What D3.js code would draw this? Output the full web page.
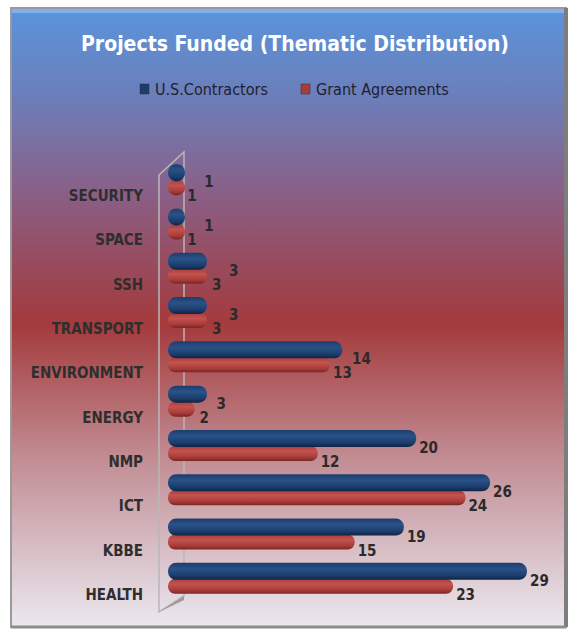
<!DOCTYPE html>
<html>
<head>
<meta charset="utf-8">
<script src="https://cdn.jsdelivr.net/npm/d3@7"></script>
<style>
body { margin: 0; background: #fff; }
svg text { font-family: "DejaVu Sans Condensed", "Liberation Sans", sans-serif; }
</style>
</head>
<body>
<div id="chart"></div>
<script>
var categories = ["SECURITY", "SPACE", "SSH", "TRANSPORT", "ENVIRONMENT", "ENERGY", "NMP", "ICT", "KBBE", "HEALTH"];
var contractors = [1, 1, 3, 3, 14, 3, 20, 26, 19, 29];
var grants = [1, 1, 3, 3, 13, 2, 12, 24, 15, 23];
var seriesNames = ["U.S.Contractors", "Grant Agreements"];

var width = 576, height = 635;

var svg = d3.select("#chart").append("svg")
  .attr("width", width)
  .attr("height", height);

var defs = svg.append("defs");

// background gradient blue -> red -> pale
var bg = defs.append("linearGradient").attr("id", "bg")
  .attr("x1", 0).attr("y1", 0).attr("x2", 0).attr("y2", 1);
bg.append("stop").attr("offset", "0%").attr("stop-color", "#5a94dc");
bg.append("stop").attr("offset", "15%").attr("stop-color", "#6d7db8");
bg.append("stop").attr("offset", "30%").attr("stop-color", "#8a5f86");
bg.append("stop").attr("offset", "51%").attr("stop-color", "#a43a3c");
bg.append("stop").attr("offset", "72%").attr("stop-color", "#c08a90");
bg.append("stop").attr("offset", "100%").attr("stop-color", "#ebe8f0");

function barGrad(id, dark, mid, light) {
  var g = defs.append("linearGradient").attr("id", id)
    .attr("x1", 0).attr("y1", 0).attr("x2", 0).attr("y2", 1);
  g.append("stop").attr("offset", "0%").attr("stop-color", mid);
  g.append("stop").attr("offset", "35%").attr("stop-color", light);
  g.append("stop").attr("offset", "75%").attr("stop-color", mid);
  g.append("stop").attr("offset", "100%").attr("stop-color", dark);
}
barGrad("blueBar", "#0f2444", "#1c3d6c", "#2a5288");
barGrad("redBar", "#7a2523", "#a83c3a", "#c4524f");

// panel
svg.append("rect")
  .attr("x", 11).attr("y", 8).attr("width", 555).attr("height", 619)
  .attr("fill", "url(#bg)")
  .attr("stroke", "#9a9a9a").attr("stroke-width", 2);
svg.append("rect")
  .attr("x", 12).attr("y", 9).attr("width", 553).attr("height", 4)
  .attr("fill", "#8ab8f0").attr("opacity", 0.8);
svg.append("line")
  .attr("x1", 566).attr("y1", 8).attr("x2", 566).attr("y2", 627)
  .attr("stroke", "#7d7d7d").attr("stroke-width", 4);
svg.append("line")
  .attr("x1", 11).attr("y1", 627).attr("x2", 566).attr("y2", 627)
  .attr("stroke", "#8d8d8d").attr("stroke-width", 3);

// title
svg.append("text")
  .attr("x", 295).attr("y", 51)
  .attr("text-anchor", "middle")
  .attr("fill", "#fff")
  .attr("font-size", 21).attr("font-weight", "bold")
  .text("Projects Funded  (Thematic Distribution)");

// legend
var legend = svg.append("g").attr("class", "legend");
var legendX = [140, 301];
seriesNames.forEach(function(name, i) {
  legend.append("rect")
    .attr("x", legendX[i]).attr("y", 84).attr("width", 9).attr("height", 10)
    .attr("fill", i === 0 ? "#1c3d6c" : "#a83c3a")
    .attr("stroke", "#333").attr("stroke-width", 0.5);
  legend.append("text")
    .attr("x", legendX[i] + 15).attr("y", 95)
    .attr("fill", "#1e2030")
    .attr("font-size", 16)
    .text(name);
});

// scales
var x = d3.scaleLinear().domain([0, 29]).range([170, 527]);
var y = d3.scaleBand().domain(categories).range([173, 616]);

// 3d wall lines
var wall = svg.append("g").attr("class", "wall");
wall.append("path")
  .attr("d", "M159,175 L184,152 L184,596 L159,612 Z")
  .attr("fill", "none")
  .attr("stroke", "#b8b8b8").attr("stroke-width", 1.5);
wall.append("path")
  .attr("d", "M159,612 L184,596 L184,600 Z")
  .attr("fill", "#9a9a9a");

// category labels
svg.append("g").selectAll("text")
  .data(categories)
  .join("text")
  .attr("x", 143)
  .attr("y", function(d) { return y(d) + y.bandwidth() / 2 + 6; })
  .attr("text-anchor", "end")
  .attr("fill", "#2e2e2e")
  .attr("font-size", 15).attr("font-weight", "bold")
  .text(function(d) { return d; });

var rows = categories.map(function(c, i) {
  return { cat: c, blue: contractors[i], red: grants[i] };
});

function mid(d) { return y(d.cat) + y.bandwidth() / 2; }
function barW(v) { return Math.max(x(v) - x(0) + 2, 17); }

// red bars (behind)
svg.append("g").selectAll("rect")
  .data(rows)
  .join("rect")
  .attr("x", x(0) - 2)
  .attr("y", function(d) { return mid(d) - 15; })
  .attr("width", function(d) { return barW(d.red); })
  .attr("height", 15)
  .attr("rx", 7).attr("ry", 7)
  .attr("fill", "url(#redBar)");

// blue bars
svg.append("g").selectAll("rect")
  .data(rows)
  .join("rect")
  .attr("x", x(0) - 2)
  .attr("y", function(d) { return mid(d) - 31; })
  .attr("width", function(d) { return barW(d.blue); })
  .attr("height", 17)
  .attr("rx", 8).attr("ry", 8)
  .attr("fill", "url(#blueBar)");

// value labels
svg.append("g").selectAll("text")
  .data(rows)
  .join("text")
  .attr("x", function(d) { return Math.max(x(d.blue) + 3, x(d.red) + 22); })
  .attr("y", function(d) { return mid(d) - 8; })
  .attr("fill", "#2a2a2a")
  .attr("font-size", 15).attr("font-weight", "bold")
  .text(function(d) { return d.blue; });

svg.append("g").selectAll("text")
  .data(rows)
  .join("text")
  .attr("x", function(d) { return x(d.red) + (d.red < 5 ? 5 : 3); })
  .attr("y", function(d) { return mid(d) + 6; })
  .attr("fill", "#2a2a2a")
  .attr("font-size", 15).attr("font-weight", "bold")
  .text(function(d) { return d.red; });
</script>
</body>
</html>
